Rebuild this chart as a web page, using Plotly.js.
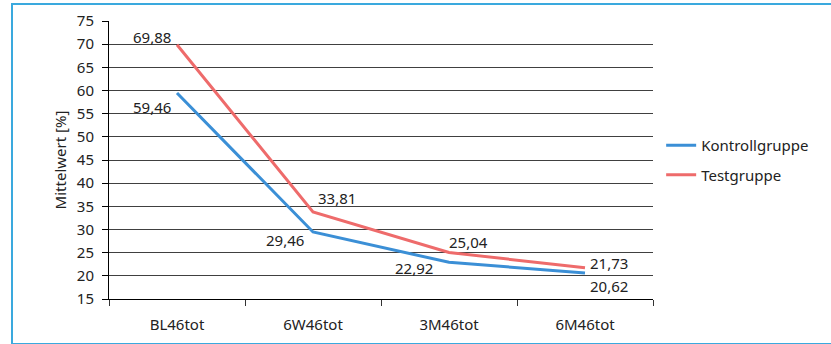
<!DOCTYPE html>
<html>
<head>
<meta charset="utf-8">
<script src="https://cdn.plot.ly/plotly-3.0.1.min.js"></script>
<style>
  html, body { margin: 0; padding: 0; background: #fff; }
  #frame {
    position: absolute; left: 11px; top: 3px; width: 830px; height: 338px;
    border-left: 2px solid #3aa9de; border-top: 2px solid #3aa9de; border-bottom: 2px solid #3aa9de;
  }
  #chart { position: absolute; left: 0; top: 0; width: 831px; height: 344px; }
</style>
</head>
<body>
<div id="frame"></div>
<div id="chart"></div>
<script>
// Messzeitpunkte und Mittelwerte je Gruppe
const categories = ['BL46tot', '6W46tot', '3M46tot', '6M46tot'];
const kontrollgruppe = [59.46, 29.46, 22.92, 20.62];
const testgruppe = [69.88, 33.81, 25.04, 21.73];
const yTicks = [15, 20, 25, 30, 35, 40, 45, 50, 55, 60, 65, 70, 75];

const fontFam = '"Noto Sans", "Open Sans", sans-serif';
const fmt = v => v.toFixed(2).replace('.', ',');

// Placement of the value labels next to each point
const kontrollPlace = [
  { xanchor: 'right', xshift: -4, yshift: -14 },
  { xanchor: 'right', xshift: -7, yshift: -8 },
  { xanchor: 'right', xshift: -14, yshift: -6 },
  { xanchor: 'left', xshift: 3, yshift: -13 }
];
const testPlace = [
  { xanchor: 'right', xshift: -4, yshift: 8 },
  { xanchor: 'left', xshift: 3, yshift: 14 },
  { xanchor: 'left', xshift: -2, yshift: 10 },
  { xanchor: 'left', xshift: 3, yshift: 5 }
];

function labels(values, place) {
  return values.map((v, i) => Object.assign({
    x: categories[i], y: v, xref: 'x', yref: 'y',
    text: fmt(v), showarrow: false, yanchor: 'middle',
    font: { family: fontFam, size: 15, color: '#222' }
  }, place[i]));
}

const traces = [
  {
    x: categories, y: kontrollgruppe, name: 'Kontrollgruppe', legendgroup: 'k',
    mode: 'lines', type: 'scatter',
    line: { color: '#3b8fd6', width: 3 }
  },
  {
    x: categories, y: testgruppe, name: 'Testgruppe', legendgroup: 't',
    mode: 'lines', type: 'scatter',
    line: { color: '#ee6b6b', width: 3 }
  }
];

const layout = {
  width: 831, height: 344,
  margin: { l: 109, r: 178, t: 21, b: 45 },
  paper_bgcolor: 'rgba(0,0,0,0)', plot_bgcolor: 'rgba(0,0,0,0)',
  font: { family: fontFam, color: '#222' },
  showlegend: true,
  legend: {
    x: 1.015, xanchor: 'left', y: 0.5, yanchor: 'middle',
    traceorder: 'grouped', tracegroupgap: 7,
    font: { family: fontFam, size: 15, color: '#222' }
  },
  annotations: labels(kontrollgruppe, kontrollPlace).concat(labels(testgruppe, testPlace)),
  xaxis: {
    type: 'category', range: [-0.5, 3.5],
    showline: true, linecolor: '#000', linewidth: 1,
    ticks: 'outside', tickson: 'boundaries', ticklen: 6, tickcolor: '#333',
    ticklabelstandoff: 12,
    showgrid: false, zeroline: false,
    tickfont: { family: fontFam, size: 15, color: '#222' }
  },
  yaxis: {
    range: [15, 75], tickvals: yTicks,
    showline: true, linecolor: '#000', linewidth: 1,
    ticks: 'outside', ticklen: 6, tickcolor: '#000',
    ticklabelstandoff: 5,
    showgrid: true, gridcolor: '#404040', gridwidth: 1, zeroline: false,
    tickfont: { family: fontFam, size: 15, color: '#222' },
    title: { text: 'Mittelwert [%]', font: { family: fontFam, size: 15, color: '#222' }, standoff: 6 }
  }
};

Plotly.newPlot('chart', traces, layout, { displayModeBar: false, staticPlot: true });
</script>
</body>
</html>
